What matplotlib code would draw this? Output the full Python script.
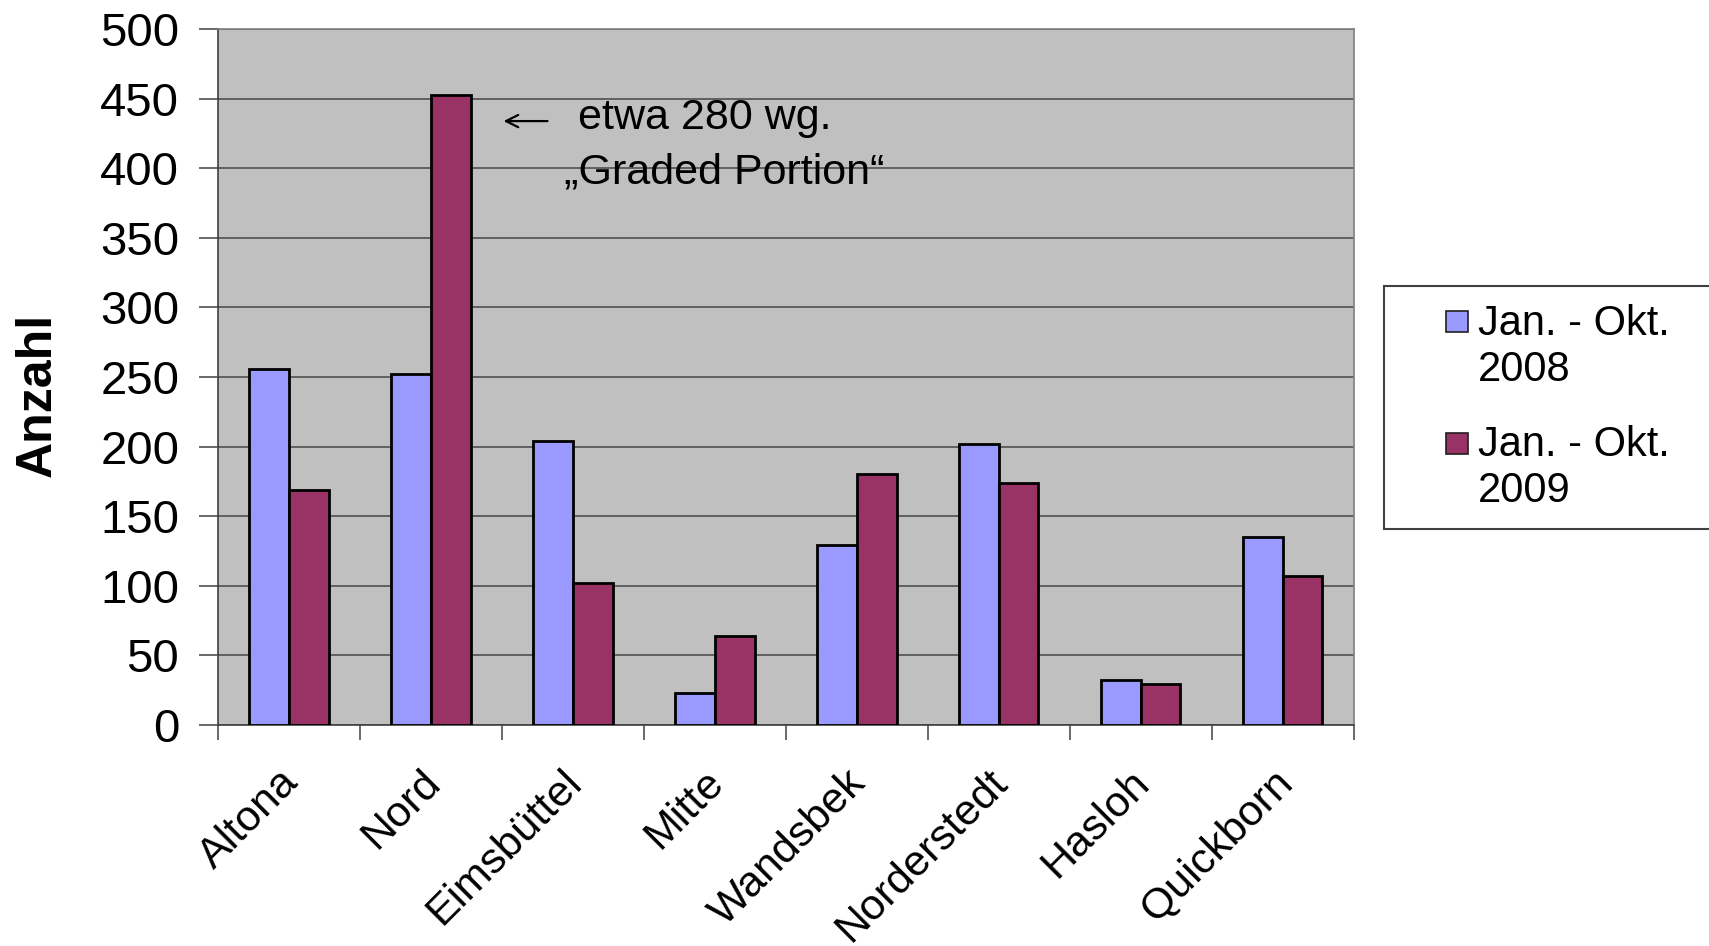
import matplotlib
matplotlib.use('Agg')
import matplotlib.pyplot as plt
import matplotlib.transforms as mtransforms
from matplotlib.patches import Rectangle, FancyArrowPatch
import numpy as np

plt.rcParams['font.family'] = ['Liberation Sans', 'DejaVu Sans']

# Data
districts = ['Altona', 'Nord', 'Eimsbüttel', 'Mitte', 'Wandsbek',
             'Norderstedt', 'Hasloh', 'Quickborn']
counts_2008 = [256, 252, 204, 23, 129, 202, 32, 135]
counts_2009 = [169, 453, 102, 64, 180, 174, 29, 107]
series_labels = ['Jan. - Okt.\n2008', 'Jan. - Okt.\n2009']
series_colors = ['#9999FF', '#993366']
y_ticks = [0, 50, 100, 150, 200, 250, 300, 350, 400, 450, 500]

fig = plt.figure(figsize=(17.09, 9.46), dpi=100)
ax = fig.add_axes([0.1276, 0.234, 0.6644, 0.735])
ax.set_facecolor('#C0C0C0')

x = np.arange(len(districts))
w = 0.28
ax.bar(x - w / 2, counts_2008, w, color=series_colors[0], edgecolor='black',
       linewidth=2, zorder=3)
ax.bar(x + w / 2, counts_2009, w, color=series_colors[1], edgecolor='black',
       linewidth=2, zorder=3)

ax.set_xlim(-0.5, len(districts) - 0.5)
ax.set_ylim(0, 500)
ax.set_yticks(y_ticks)
ax.set_yticklabels([str(v) for v in y_ticks], fontsize=34)
ax.yaxis.grid(True, color='#505050', linewidth=1.2, zorder=1)
ax.tick_params(axis='y', length=14, width=1.2, color='#505050', pad=14)

# category labels at centres, tick marks at boundaries
ax.set_xticks(x)
ax.set_xticklabels(districts, rotation=45, ha='right', va='top',
                   rotation_mode='anchor', fontsize=31)
ax.tick_params(axis='x', which='major', length=0, pad=27)
shift = mtransforms.ScaledTranslation(-0.11, 0, fig.dpi_scale_trans)
for lbl in ax.get_xticklabels():
    lbl.set_transform(lbl.get_transform() + shift)
ax.set_xticks(np.arange(len(districts) + 1) - 0.5, minor=True)
ax.tick_params(axis='x', which='minor', length=11, width=1.2, color='#505050')

for side in ['top', 'right']:
    ax.spines[side].set_color('#808080')
    ax.spines[side].set_linewidth(1.2)
for side in ['left', 'bottom']:
    ax.spines[side].set_color('#404040')
    ax.spines[side].set_linewidth(1.2)

fig.text(0.022, 0.582, 'Anzahl', rotation=90, fontsize=36, fontweight='bold',
         ha='center', va='center')

# annotation next to Nord 2009
fig.add_artist(FancyArrowPatch((0.322, 0.872), (0.293, 0.872),
                               transform=fig.transFigure, arrowstyle='->',
                               mutation_scale=22, linewidth=1.6, color='black'))
fig.text(0.338, 0.875, 'etwa 280 wg.', fontsize=31, ha='left', va='center')
fig.text(0.330, 0.818, '\u201eGraded Portion\u201c', fontsize=31, ha='left',
         va='center')

# legend box (runs off the right edge like the original)
fig.add_artist(Rectangle((0.810, 0.441), 0.25, 0.257,
                         transform=fig.transFigure, facecolor='white',
                         edgecolor='#404040', linewidth=1.5, clip_on=False))
for label, color, sq_y, txt_y in zip(series_labels, series_colors,
                                     [0.649, 0.520], [0.633, 0.505]):
    fig.add_artist(Rectangle((0.846, sq_y), 0.0129, 0.0222,
                             transform=fig.transFigure, facecolor=color,
                             edgecolor='#202020', linewidth=1.2))
    fig.text(0.865, txt_y, label, fontsize=30, ha='left', va='center',
             linespacing=1.2)

fig.savefig('out.png', dpi=100)
